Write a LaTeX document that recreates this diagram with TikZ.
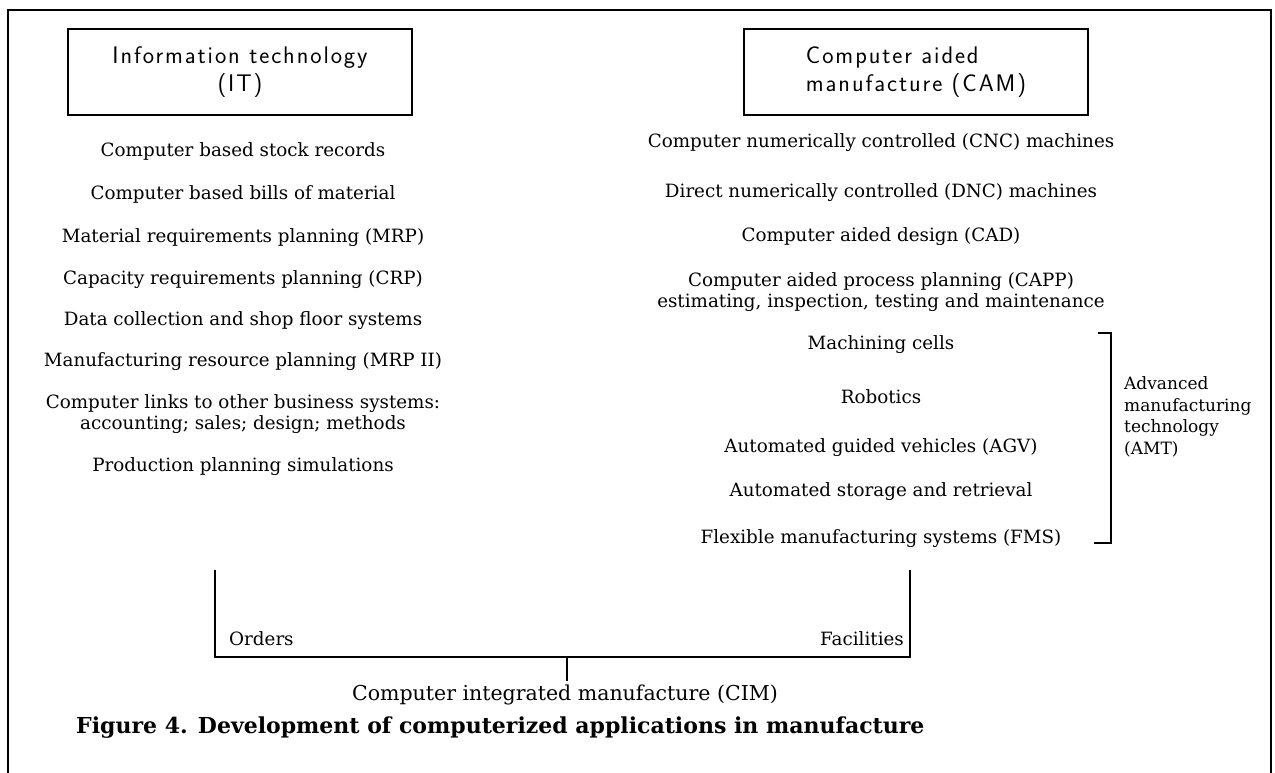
\documentclass[tikz,border=0pt]{standalone}
\usepackage{fontspec}
\newfontfamily\boxfont[LetterSpace=8]{Latin Modern Sans}
\newfontfamily\itemfont{DejaVu Serif}
\begin{document}
\begin{tikzpicture}[x=1pt,y=-1pt,
  rule/.style={line width=1.6pt},
  hdr/.style={draw,line width=1.6pt,minimum width=344pt,minimum height=86pt,
    font=\boxfont\fontsize{24}{28}\selectfont},
  item/.style={align=center,inner sep=0pt,font=\itemfont\fontsize{18.3}{21}\selectfont},
  lbl/.style={inner sep=0pt,font=\itemfont\fontsize{18.3}{21.5}\selectfont}]
\useasboundingbox (0,0) rectangle (1275,773);
% open outer frame
\draw[rule] (8,773) -- (8,10) -- (1271,10) -- (1271,773);

% column headings
\node[hdr,align=center] (it)  at (240,72) {Information technology\\(IT)};
\node[hdr,align=left]   (cam) at (916,72) {Computer aided\\manufacture (CAM)};

% information technology applications
\node[item] (l1) at (243,151) {Computer based stock records};
\node[item] (l2) at (243,194) {Computer based bills of material};
\node[item] (l3) at (243,238) {Material requirements planning (MRP)};
\node[item] (l4) at (243,280) {Capacity requirements planning (CRP)};
\node[item] (l5) at (243,321) {Data collection and shop floor systems};
\node[item] (l6) at (243,362) {Manufacturing resource planning (MRP II)};
\node[item] (l7) at (243,414) {Computer links to other business systems:\\accounting; sales; design; methods};
\node[item] (l8) at (243,467) {Production planning simulations};

% manufacturing applications
\node[item] (r1) at (881,143) {Computer numerically controlled (CNC) machines};
\node[item] (r2) at (881,193) {Direct numerically controlled (DNC) machines};
\node[item] (r3) at (881,237) {Computer aided design (CAD)};
\node[item] (r4) at (881,292) {Computer aided process planning (CAPP)\\estimating, inspection, testing and maintenance};
\node[item] (r5) at (881,345) {Machining cells};
\node[item] (r6) at (881,397) {Robotics};
\node[item] (r7) at (881,448) {Automated guided vehicles (AGV)};
\node[item] (r8) at (881,492) {Automated storage and retrieval};
\node[item] (r9) at (881,539) {Flexible manufacturing systems (FMS)};

% AMT bracket
\coordinate (bt) at (1098,333);
\coordinate (bb) at (1094,543);
\draw[rule] (bt) -- (1111,333) -- (1111,543) -- (bb);
\node[lbl,anchor=west,align=left,font=\itemfont\fontsize{17}{21.5}\selectfont] (amt) at (1124,417)
  {Advanced\\manufacturing\\technology\\(AMT)};

% orders / facilities bracket joining into CIM
\coordinate (ol) at (215,570);
\coordinate (fr) at (910,570);
\coordinate (mid) at (567,657);
\coordinate (low) at (567,681);
\draw[rule] (ol) -- (215,657) -- (910,657) -- (fr);
\draw[rule] (mid) -- (low);
\node[lbl,anchor=west] (ord) at (229,639) {Orders};
\node[lbl,anchor=east] (fac) at (904,639) {Facilities};
\node[lbl,font=\itemfont\fontsize{20.5}{23}\selectfont] (cim) at (565,695)
  {Computer integrated manufacture (CIM)};

% caption
\node[lbl,anchor=west,font=\itemfont\bfseries\fontsize{22}{25}\selectfont] (cap) at (76,728)
  {Figure 4. Development of computerized applications in manufacture};
\end{tikzpicture}
\end{document}
